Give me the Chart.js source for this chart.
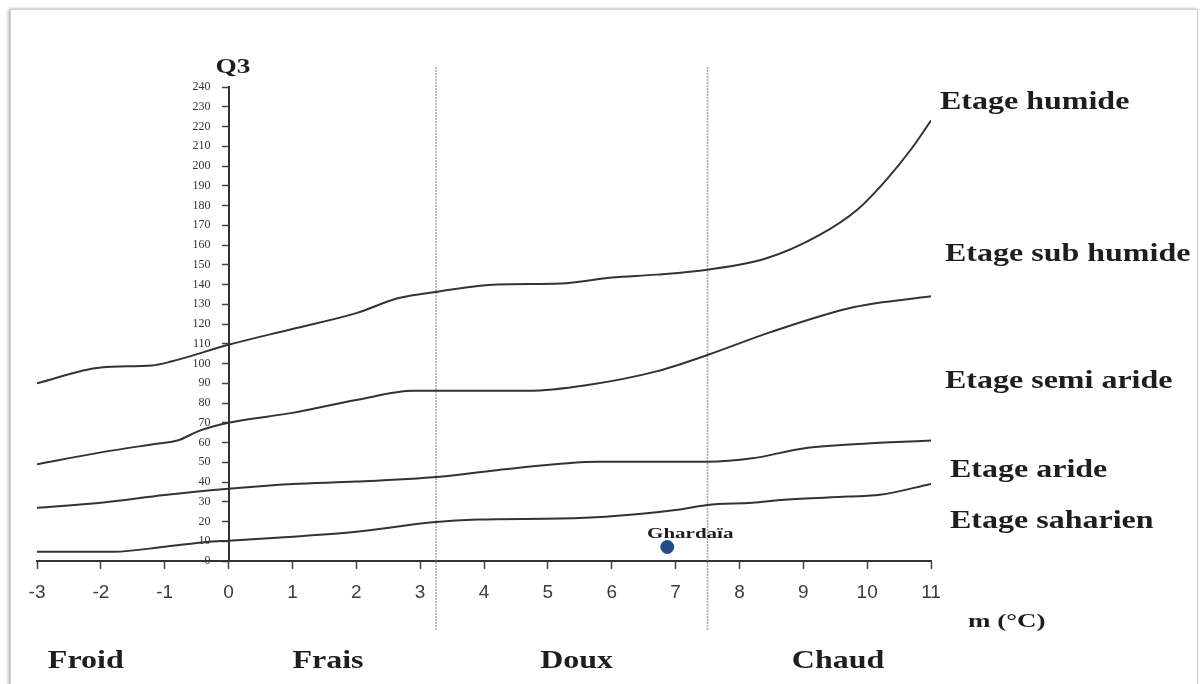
<!DOCTYPE html>
<html lang="fr">
<head>
<meta charset="utf-8">
<title>Climagramme d'Emberger - Ghardaïa</title>
<script src="https://cdn.jsdelivr.net/npm/chart.js@4.4.1/dist/chart.umd.min.js"></script>
<style>
  html, body { margin: 0; padding: 0; background: #fff; }
  #wrap { position: relative; width: 1202px; height: 684px; overflow: hidden; }
  /* cadre gris autour de la figure */
  #frame {
    position: absolute; left: 10px; top: 9px; width: 1186px; height: 700px;
    border: 1px solid #d0d0d0;
    box-shadow: -2px 0 3px rgba(0,0,0,0.25), 0 -1px 2px rgba(0,0,0,0.08);
    background: #fff;
  }
  #chart { position: absolute; left: 0; top: 0; }
</style>
</head>
<body>
<div id="wrap">
  <div id="frame"></div>
  <canvas id="chart" width="1202" height="684"></canvas>
</div>
<script>
// limites des étages bioclimatiques (m en °C, Q3)
const humideM = [-3, -2, -1.2, -0.9, 0, 1, 2, 2.65, 3.3, 4.2, 5.2, 6, 6.7, 7.5, 8.4, 9.25, 9.85, 10.3, 10.7, 11];
const humideQ = [90, 98, 99, 101, 109.5, 117.5, 125.5, 133, 136.5, 140, 140.5, 143.5, 145, 147.5, 153, 165, 178, 193, 209, 223];

const subHumideM = [-3, -2, -1.1, -0.8, -0.45, 0, 1, 2, 2.9, 4.7, 5.6, 6.7, 7.5, 8.5, 9.8, 11];
const subHumideQ = [49, 55, 59.5, 61, 66, 70, 75, 81.5, 86.2, 86.2, 89, 96, 104.3, 116, 128.6, 134];

const arideM = [-3, -2, -1, 0, 1, 2, 3.3, 4.2, 5.8, 7.5, 8.2, 9, 10, 11];
const arideQ = [27, 29.5, 33.4, 36.6, 39, 40.2, 42.7, 46, 50.3, 50.3, 52, 57, 59.5, 61];

const saharienM = [-3, -1.8, -1, -0.3, 0, 1, 2, 3.2, 3.9, 5.2, 5.9, 7, 7.5, 8.2, 8.7, 9.7, 10.2, 11];
const saharienQ = [4.7, 4.7, 7.2, 9.8, 10.3, 12.3, 14.8, 19.6, 21, 21.5, 22.4, 25.8, 28.4, 29.5, 31, 32.6, 33.5, 39];

// station
const stationName = 'Ghardaïa';
const stationM = 6.87;
const stationQ = 7.1;

// séparations des variantes thermiques
const winterBounds = [3.25, 7.5];
const winterNames = ['Froid', 'Frais', 'Doux', 'Chaud'];
const etageNames = ['Etage humide', 'Etage sub humide', 'Etage semi aride', 'Etage aride', 'Etage saharien'];

const toPoints = (xs, ys) => xs.map((x, i) => ({ x: x, y: ys[i] }));

const curveStyle = {
    showLine: true,
    borderColor: '#333',
    borderWidth: 2,
    pointRadius: 0,
    cubicInterpolationMode: 'monotone',
    fill: false,
};

// texte étiré horizontalement, comme sur la figure d'origine
function drawText(ctx, text, x, y, font, sx, align) {
    ctx.save();
    ctx.font = font;
    ctx.fillStyle = '#1e1e1e';
    ctx.textBaseline = 'middle';
    ctx.translate(x, y);
    ctx.scale(sx, 1);
    ctx.textAlign = align || 'left';
    ctx.fillText(text, 0, 0);
    ctx.restore();
}

const decorPlugin = {
    id: 'decor',
    beforeDatasetsDraw(chart) {
        const { ctx, scales: { x, y } } = chart;
        ctx.save();
        ctx.strokeStyle = '#8a8a8a';
        ctx.lineWidth = 1.5;
        ctx.setLineDash([1.5, 1.5]);
        winterBounds.forEach(b => {
            const px = x.getPixelForValue(b);
            ctx.beginPath();
            ctx.moveTo(px, y.getPixelForValue(250));
            ctx.lineTo(px, y.getPixelForValue(-35));
            ctx.stroke();
        });
        ctx.restore();
    },
    afterDraw(chart) {
        const { ctx, scales: { x, y } } = chart;
        const big = 'bold 25px "Liberation Serif", "Times New Roman", serif';

        // noms des étages à droite des courbes
        const etageY = [232, 155, 91, 46, 20];
        const etageDx = [9, 14, 14, 19, 19];
        etageNames.forEach((name, i) => {
            drawText(ctx, name, x.right + etageDx[i], y.getPixelForValue(etageY[i]), big, 1.28);
        });

        // variantes thermiques sous l'axe
        const winterX = [-2.83, 1.0, 4.88, 8.82];
        winterNames.forEach((name, i) => {
            drawText(ctx, name, x.getPixelForValue(winterX[i]), 662, big, 1.28);
        });

        // titres des axes
        drawText(ctx, 'Q3', x.getPixelForValue(0) - 13, 68, 'bold 21px "Liberation Serif", serif', 1.3, 'left');
        drawText(ctx, 'm (°C)', x.right + 37, 622, 'bold 18px "Liberation Serif", serif', 1.5, 'left');

        // nom de la station
        const sx = x.getPixelForValue(stationM);
        const sy = y.getPixelForValue(stationQ);
        drawText(ctx, stationName, sx + 23, sy - 13, 'bold 15px "Liberation Serif", serif', 1.4, 'center');
    }
};

new Chart(document.getElementById('chart'), {
    type: 'scatter',
    data: {
        datasets: [
            Object.assign({ label: etageNames[0], data: toPoints(humideM, humideQ) }, curveStyle),
            Object.assign({ label: etageNames[1], data: toPoints(subHumideM, subHumideQ) }, curveStyle),
            Object.assign({ label: etageNames[2], data: toPoints(arideM, arideQ) }, curveStyle),
            Object.assign({ label: etageNames[3], data: toPoints(saharienM, saharienQ) }, curveStyle),
            {
                label: stationName,
                data: [{ x: stationM, y: stationQ }],
                pointRadius: 6.5,
                pointBackgroundColor: '#1f4b87',
                pointBorderColor: '#1f4b87',
                showLine: false,
            },
        ]
    },
    options: {
        responsive: false,
        animation: false,
        layout: { padding: { left: 37, right: 271, top: 87, bottom: 63 } },
        plugins: {
            legend: { display: false },
            tooltip: { enabled: false },
        },
        scales: {
            x: {
                type: 'linear',
                min: -3,
                max: 11,
                // hauteur fixe pour garder la zone de tracé en place
                afterFit: (s) => { s.height = 60; },
                ticks: {
                    stepSize: 1,
                    padding: 12,
                    color: '#3c3c3c',
                    font: { family: '"Liberation Sans", Arial, sans-serif', size: 19 },
                },
                grid: { drawOnChartArea: false, drawTicks: true, tickLength: 8, tickWidth: 1.5, color: '#444' },
                border: { display: true, color: '#333', width: 2 },
            },
            y: {
                type: 'linear',
                position: { x: 0 },
                min: 0,
                max: 240,
                afterFit: (s) => { s.width = 0; },
                ticks: {
                    stepSize: 10,
                    autoSkip: false,
                    color: '#333',
                    // l'axe est placé en m = 0 : on décale les libellés à gauche des graduations
                    callback: (v) => v + '      ',
                    font: { family: '"Liberation Serif", serif', size: 12 },
                },
                grid: { drawOnChartArea: false, drawTicks: true, tickLength: 6, tickWidth: 1.5, color: '#444' },
                border: { display: true, color: '#333', width: 2 },
            },
        },
    },
    plugins: [decorPlugin],
});
</script>
</body>
</html>
